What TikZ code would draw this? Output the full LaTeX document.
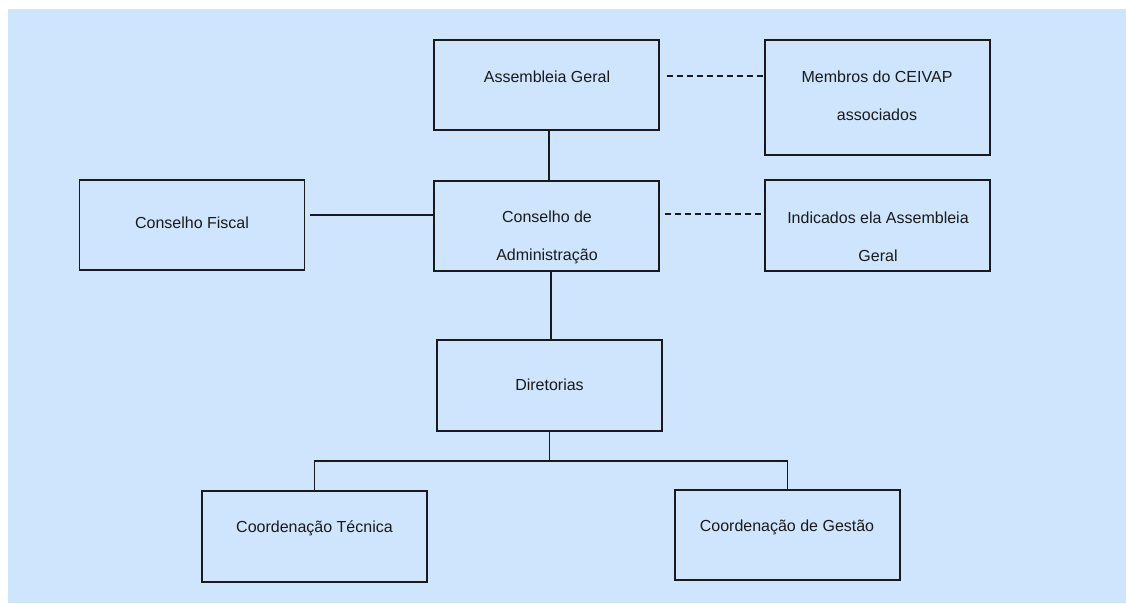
\documentclass[tikz,border=0pt]{standalone}
\usepackage{fontspec}
\setmainfont{Liberation Sans}
\usetikzlibrary{calc}
\definecolor{panel}{RGB}{206,229,253}
\definecolor{ink}{RGB}{26,26,26}
\tikzset{
  orgbox/.style={draw=ink, line width=1.6pt, minimum width=225pt, minimum height=90pt, inner sep=0pt},
  orgtext/.style={text=ink, font=\fontsize{16}{38}\selectfont, align=center, inner sep=0pt},
  link/.style={draw=ink, line width=1.6pt},
  dlink/.style={draw=ink, line width=1.6pt, dash pattern=on 6pt off 4pt},
}
\begin{document}
\begin{tikzpicture}[x=1pt,y=-1pt]
  \useasboundingbox (0,0) rectangle (1126,603);
  \fill[panel] (8,9) rectangle (1126,603);

  % boxes
  \node[orgbox] (asm) at (546.5,85) {};
  \node[orgbox, minimum height=115pt] (mem) at (877.5,97.5) {};
  \node[orgbox] (fis) at (192,225) {};
  \node[orgbox] (cadm) at (546.5,226) {};
  \node[orgbox, minimum height=91pt] (ind) at (877.5,225.5) {};
  \node[orgbox, minimum height=91pt] (dir) at (549.5,385.5) {};
  \node[orgbox, minimum height=91pt] (tec) at (314.5,536.5) {};
  \node[orgbox] (ges) at (787.5,535) {};

  % labels
  \node[orgtext] (asmT) at (547,77) {Assembleia Geral};
  \node[orgtext] (memT) at (877,96) {Membros do CEIVAP\\associados};
  \node[orgtext] (fisT) at (192,223) {Conselho Fiscal};
  \node[orgtext] (cadmT) at (547,237) {Conselho de\\Administração};
  \node[orgtext] (indT) at (878,236.5) {Indicados ela Assembleia\\Geral};
  \node[orgtext] (dirT) at (549.5,385) {Diretorias};
  \node[orgtext] (tecT) at (314.5,528) {Coordenação Técnica};
  \node[orgtext] (gesT) at (787,527) {Coordenação de Gestão};

  % connectors
  \draw[link] ([xshift=2.5pt]asm.south) -- ([xshift=2.5pt]asm.south |- cadm.north);
  \draw[link] ([xshift=5pt,yshift=10pt]fis.east) -- ([yshift=10pt]fis.east -| cadm.west);
  \draw[dlink] ([xshift=7pt,yshift=9pt]asm.east) -- ([yshift=9pt]asm.east -| mem.west);
  \draw[dlink] ([xshift=5pt,yshift=12pt]cadm.east) -- ([yshift=12pt]cadm.east -| ind.west);
  \draw[link] ([xshift=4.5pt]cadm.south) -- ([xshift=4.5pt]cadm.south |- dir.north);
  \coordinate (bus) at (549.5,461);
  \draw[link] (dir.south) -- (bus);
  \draw[link] (tec.north) |- (bus) -| (ges.north);
\end{tikzpicture}
\end{document}
